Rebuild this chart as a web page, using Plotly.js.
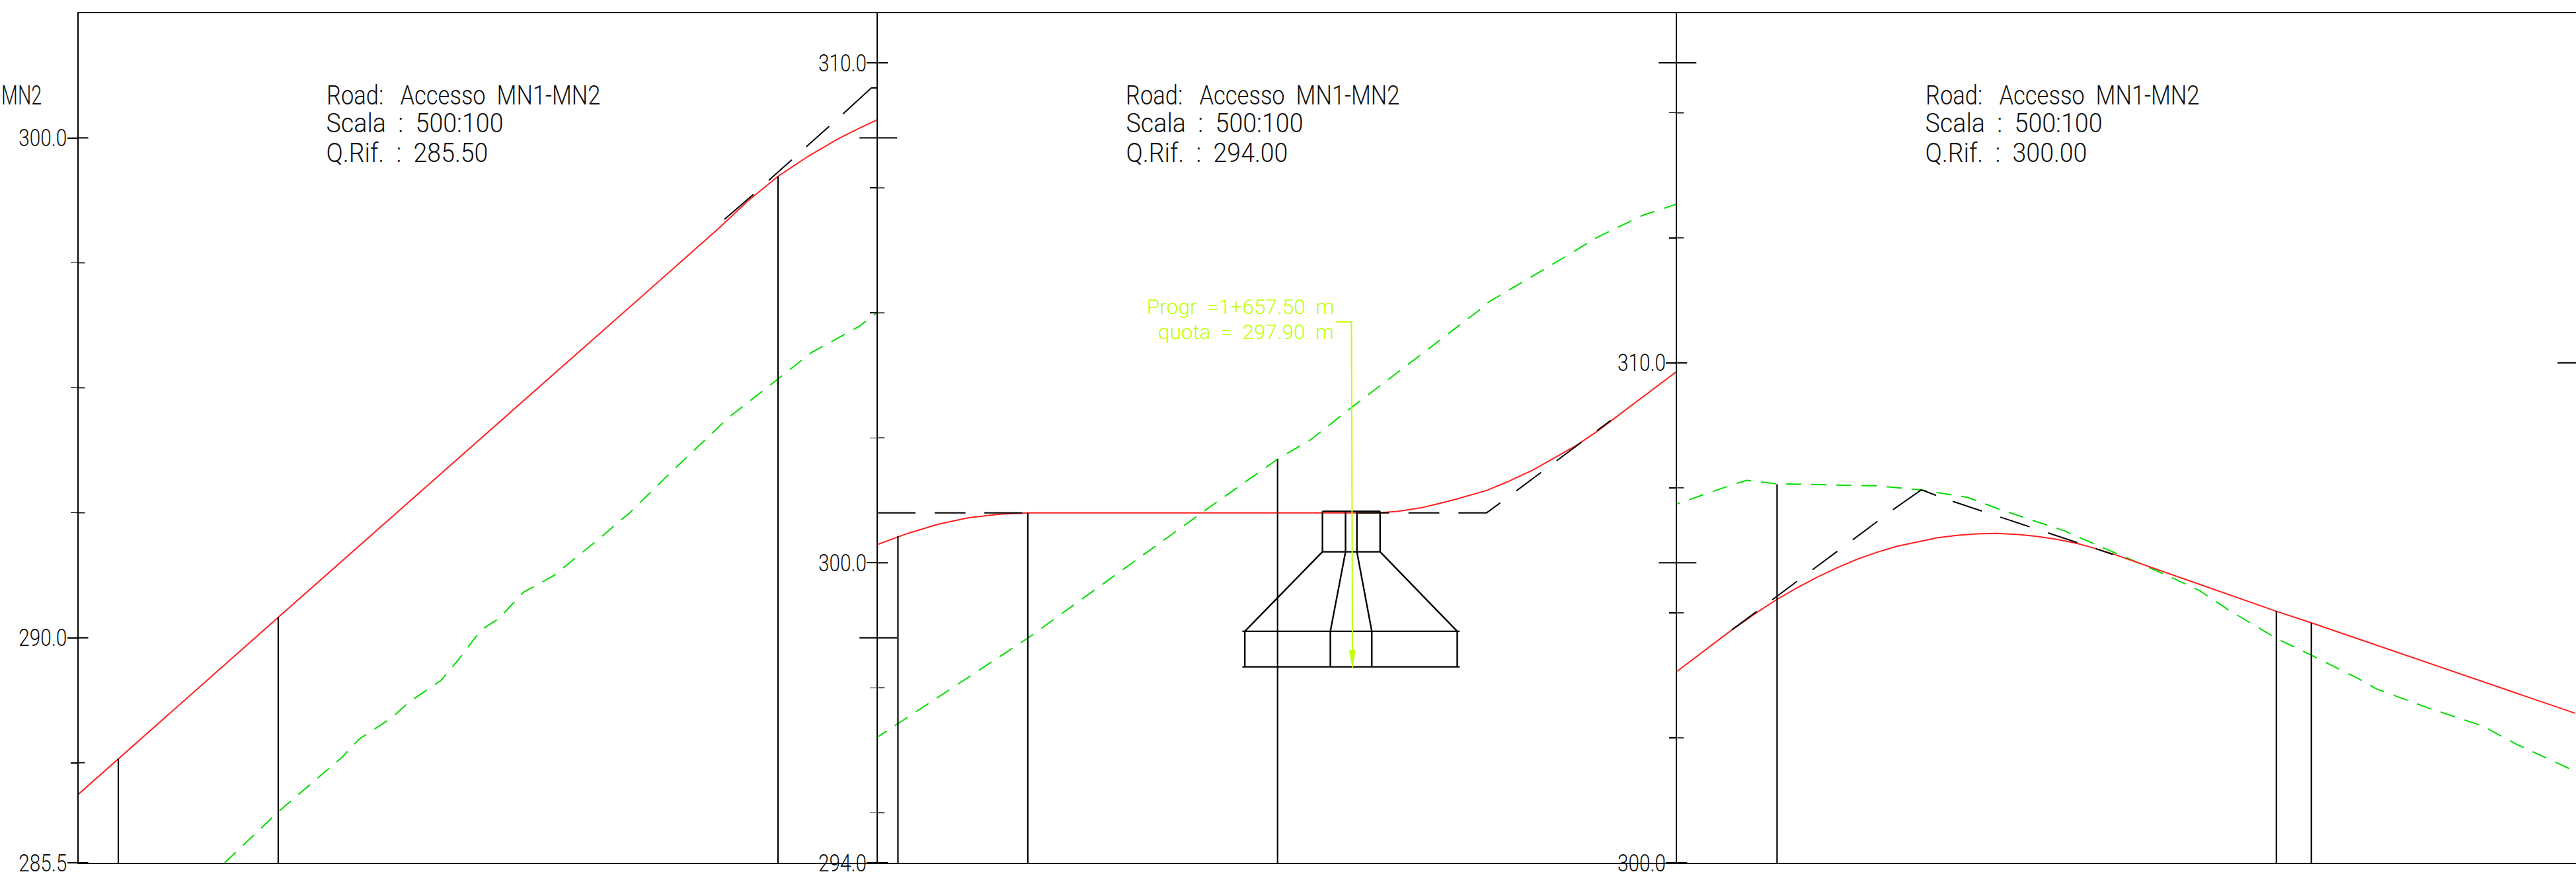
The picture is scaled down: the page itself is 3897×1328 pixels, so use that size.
<!DOCTYPE html>
<html><head><meta charset="utf-8">
<script src="https://cdn.plot.ly/plotly-3.0.1.min.js"></script>
<style>html,body{margin:0;padding:0;background:#fff}#c{width:3897px;height:1328px}</style>
</head><body><div id="c"></div>
<script>
// profile data: chainage (m) and elevation (m)
const roadX = [1530,1534,1550,1590,1594,1597,1600,1603,1606,1608,1610,1613,1616,1619,1622,1625,1660,1662,1664.35,1666.25,1668,1670.96,1673,1675.5,1677.58,1680,1681.99,1684,1686.4,1689.93,1695.48,1698,1700,1702,1704,1706,1708,1710,1712,1714,1716,1718,1720,1722,1724,1726,1728,1730,1732,1733.6,1750,1753.5,1779.92];
const roadY = [286.87,287.58,290.41,297.47,298.18,298.74,299.23,299.63,299.98,300.18,300.37,300.59,300.77,300.90,300.97,301.0,301.0,301.03,301.10,301.19,301.28,301.45,301.62,301.85,302.09,302.36,302.63,302.93,303.30,303.82,304.66,305.01,305.27,305.50,305.71,305.90,306.07,306.21,306.33,306.42,306.50,306.55,306.58,306.59,306.57,306.53,306.47,306.39,306.28,306.18,305.03,304.80,302.99];
const groundX = [1544.64,1550.01,1556.43,1558.07,1561.36,1563.0,1566.29,1567.94,1570.3,1572.05,1574.52,1577.53,1581.92,1585.21,1589.59,1595.08,1600.01,1603.3,1608.13,1610,1624.97,1642.68,1649.97,1653.37,1657.48,1670.09,1671.07,1678.86,1681.88,1686.54,1690,1695.19,1696.95,1700.02,1709.92,1714.34,1719.05,1722.29,1728.77,1732.9,1735.26,1739.38,1742.33,1745.27,1749.99,1753.52,1758.24,1760,1765.3,1770.61,1774.15,1779.92];
const groundY = [285.5,286.52,287.62,287.97,288.40,288.70,289.15,289.54,290.16,290.38,290.91,291.24,291.95,292.51,293.37,294.41,295.18,295.70,296.23,296.52,298.49,301.04,302.07,302.47,303.12,305.04,305.21,306.13,306.50,306.95,307.18,307.54,307.65,307.58,307.54,307.46,307.31,307.07,306.64,306.28,306.08,305.72,305.44,305.05,304.49,304.15,303.68,303.48,303.09,302.74,302.36,301.83];
// grade line: dashed stretches
const gradeAX = [1599.08,1606.5], gradeAY = [299.15,300.48];
const gradeBX = [1615.67,1620.65], gradeBY = [301.0,301.0];
const gradeCX = [1658.07,1668.1], gradeCY = [301.0,301.0];
const gradeDX = [1673.9,1683.35], gradeDY = [301.44,302.85];
const gradeEX = [1695.48,1711.8], gradeEY = [304.66,307.09];
const gradeFX = [1717.58,1733.61], gradeFY = [307.23,306.17];
// grade line: long dashes round the vertices
const gradeCornerX = [1594.64,1597.54,null,1606.5,1609.34,1613.76,null,1620.65,1624.45,null,1668.1,1670.92,1672.29,null,1711.8,1714.45,1715.93];
const gradeCornerY = [298.37,298.87,null,300.48,301.0,301.0,null,301.0,301.0,null,301.0,301.0,301.2,null,307.09,307.46,307.35];
const sectionX = [1534,1550,1600,1612,1625,1650,1700,1750,1753.5];
const sectionTop = [287.58,290.41,299.23,300.54,301.0,302.07,307.57,305.04,304.80];
const foundationX = [1654.49,1660.26,null,1654.49,1654.49,null,1660.26,1660.26,null,1654.49,1660.26,null,1656.8,1656.8,null,1657.94,1657.94,null,1654.49,1646.72,null,1660.26,1667.98,null,1656.8,1655.28,null,1657.94,1659.43,null,1646.47,1668.23,null,1646.47,1668.23,null,1646.72,1646.72,null,1667.98,1667.98,null,1655.28,1655.28,null,1659.43,1659.43];
const foundationY = [301.03,301.03,null,301.03,300.22,null,301.03,300.22,null,300.22,300.22,null,301.03,300.22,null,301.03,300.22,null,300.22,298.63,null,300.22,298.63,null,300.22,298.63,null,300.22,298.63,null,298.63,298.63,null,297.92,297.92,null,298.63,297.92,null,298.63,297.92,null,298.63,297.92,null,298.63,297.92];
const leaderX = [1655.88,1657.4,1657.5], leaderY = [304.82,304.82,297.92];
const arrowX = [1657.2,1657.75,1657.5,1657.2], arrowY = [298.25,298.25,297.9,298.25];

const paneStart = [1530,1610,1690], paneEnd = [1610,1690,1780];
const paneBase = [285.5,294,300], paneTop = [302.5,311,317];
const datum = ["285.50","294.00","300.00"];
const majorTicks = [[285.5,290,300],[294,300,310],[300,310]];
const majorLabels = [["285.5","290.0","300.0"],["294.0","300.0","310.0"],["300.0","310.0"]];
const minorTicks = [[287.5,292.5,295,297.5],[295,297.5,302.5,305,307.5],[302.5,305,307.5,312.5,315]];
const wideTicks = [[290,300],[300,310],[310]];
const axisPx = [118.5,1328.2,2537.3,3897];
const headerRoad = "Road:\u00A0\u00A0\u00A0Accesso\u00A0\u00A0MN1-MN2";
const headerScale = "Scala\u00A0\u00A0:\u00A0\u00A0500:100";
const headerRefPrefix = "Q.Rif.\u00A0\u00A0:\u00A0\u00A0";
const cutOff = "MN2";
const noteStation = "Progr\u00A0\u00A0=1+657.50\u00A0\u00A0m";
const noteLevel = "quota\u00A0\u00A0=\u00A0\u00A0297.90\u00A0\u00A0m";

const W = 3897, H = 1328;
const FONT = 'Roboto,"Liberation Sans",sans-serif';
const TW = 300;
const BLACK = "#000000", RED = "#ff2020", GREEN = "#00dd00", LIME = "#bfff00", INK="#111111";
const traces = [], shapes = [], annotations = [];
const layout = {width:W,height:H,margin:{l:0,r:0,t:0,b:0,pad:0},paper_bgcolor:"#fff",plot_bgcolor:"#fff",showlegend:false,shapes,annotations,font:{family:FONT,color:INK,weight:TW}};
const yTop = (H-19.5)/H, yBot = (H-1305)/H;
const pxToPaperY = px => (H-px)/H;
const DASH = "46.7px,29.3px";
const textWidths = new Map();   // annotation text -> width on the page

paneStart.forEach((s,i)=>{
  const n = i===0 ? "" : String(i+1);
  const xa = "x"+n, ya = "y"+n;
  layout["xaxis"+n] = {domain:[axisPx[i]/W,axisPx[i+1]/W],range:[s,paneEnd[i]],anchor:ya,showline:true,mirror:true,linecolor:BLACK,linewidth:2,showgrid:false,zeroline:false,showticklabels:false,ticks:""};
  layout["yaxis"+n] = {domain:[yBot,yTop],range:[paneBase[i],paneTop[i]],anchor:xa,side:"left",showline:true,linecolor:BLACK,linewidth:2,showgrid:false,zeroline:false,
    tickmode:"array",tickvals:majorTicks[i],ticktext:majorLabels[i],ticks:"outside",ticklen:15,tickwidth:2,tickcolor:BLACK,ticklabelstandoff:-7,
    tickfont:{family:FONT,size:36,color:INK,weight:TW},
    minor:{tickmode:"array",tickvals:minorTicks[i],ticks:"outside",ticklen:10,tickwidth:1.5,tickcolor:BLACK}};
  const inPane = (X,Y)=>({x:X,y:Y,xaxis:xa,yaxis:ya,type:"scatter",mode:"lines",hoverinfo:"skip"});
  traces.push(Object.assign(inPane(groundX,groundY),{line:{color:GREEN,width:2,dash:"23px,15px"}}));
  traces.push(Object.assign(inPane(roadX,roadY),{line:{color:RED,width:2}}));
  [[gradeAX,gradeAY],[gradeBX,gradeBY],[gradeCX,gradeCY],[gradeDX,gradeDY],[gradeEX,gradeEY],[gradeFX,gradeFY]].forEach(g=>{
    traces.push(Object.assign(inPane(g[0],g[1]),{line:{color:BLACK,width:2,dash:DASH}}));
  });
  traces.push(Object.assign(inPane(gradeCornerX,gradeCornerY),{line:{color:BLACK,width:2}}));
  const vx=[],vy=[];
  sectionX.forEach((v,k)=>{ if(v>=s && v<paneEnd[i]){vx.push(v,v,null);vy.push(paneBase[i],sectionTop[k],null);} });
  traces.push(Object.assign(inPane(vx,vy),{line:{color:BLACK,width:2.2}}));

  majorTicks[i].forEach(v=>shapes.push({type:"line",xref:"paper",yref:ya,xsizemode:"pixel",xanchor:axisPx[i]/W,x0:0,x1:15,y0:v,y1:v,line:{color:BLACK,width:2}}));
  minorTicks[i].forEach(v=>shapes.push({type:"line",xref:"paper",yref:ya,xsizemode:"pixel",xanchor:axisPx[i]/W,x0:0,x1:10,y0:v,y1:v,line:{color:BLACK,width:1.5}}));
  wideTicks[i].forEach(v=>shapes.push({type:"line",xref:"paper",yref:ya,xsizemode:"pixel",xanchor:axisPx[i+1]/W,x0:-28,x1:i===2?0:29,y0:v,y1:v,line:{color:BLACK,width:2}}));

  [[headerRoad,144,414.5],[headerScale,187,268],[headerRefPrefix+datum[i],232,245]].forEach(t=>{
    textWidths.set(t[0],t[2]);
    annotations.push({xref:"paper",yref:"paper",x:(axisPx[i]+375+t[2]/2)/W,y:pxToPaperY(t[1]),xanchor:"center",yanchor:"middle",text:t[0],showarrow:false,font:{family:FONT,size:40,color:INK,weight:TW}});
  });
});

textWidths.set(cutOff,61); textWidths.set(noteStation,283.6); textWidths.set(noteLevel,266);
annotations.push({xref:"paper",yref:"paper",x:32.5/W,y:pxToPaperY(144),xanchor:"center",yanchor:"middle",text:cutOff,showarrow:false,font:{family:FONT,size:40,color:INK,weight:TW}});
annotations.push({xref:"x2",yref:"y2",x:1646.28,y:305.12,xanchor:"center",yanchor:"middle",text:noteStation,showarrow:false,font:{family:FONT,size:31,color:LIME,weight:TW}});
annotations.push({xref:"x2",yref:"y2",x:1646.86,y:304.61,xanchor:"center",yanchor:"middle",text:noteLevel,showarrow:false,font:{family:FONT,size:31,color:LIME,weight:TW}});

const top2 = {xaxis:"x2",yaxis:"y2",type:"scatter",mode:"lines",hoverinfo:"skip"};
traces.push(Object.assign({x:foundationX,y:foundationY,line:{color:BLACK,width:2.4}},top2));
traces.push(Object.assign({x:leaderX,y:leaderY,line:{color:LIME,width:2}},top2));
traces.push(Object.assign({x:arrowX,y:arrowY,fill:"toself",fillcolor:LIME,line:{color:LIME,width:1}},top2));

Plotly.newPlot("c",traces,layout,{staticPlot:true,displayModeBar:false}).then(gd=>{
  // the drafting font is narrow: fit each real text to its width on the page
  gd.querySelectorAll(".annotation-text").forEach(t=>{
    const w = textWidths.get(t.textContent);
    if(w){t.setAttribute("textLength",w);t.setAttribute("lengthAdjust","spacingAndGlyphs");}
  });
  gd.querySelectorAll('[class$="tick"] text').forEach(t=>{
    t.setAttribute("textLength",73);t.setAttribute("lengthAdjust","spacingAndGlyphs");
  });
});
</script></body></html>
